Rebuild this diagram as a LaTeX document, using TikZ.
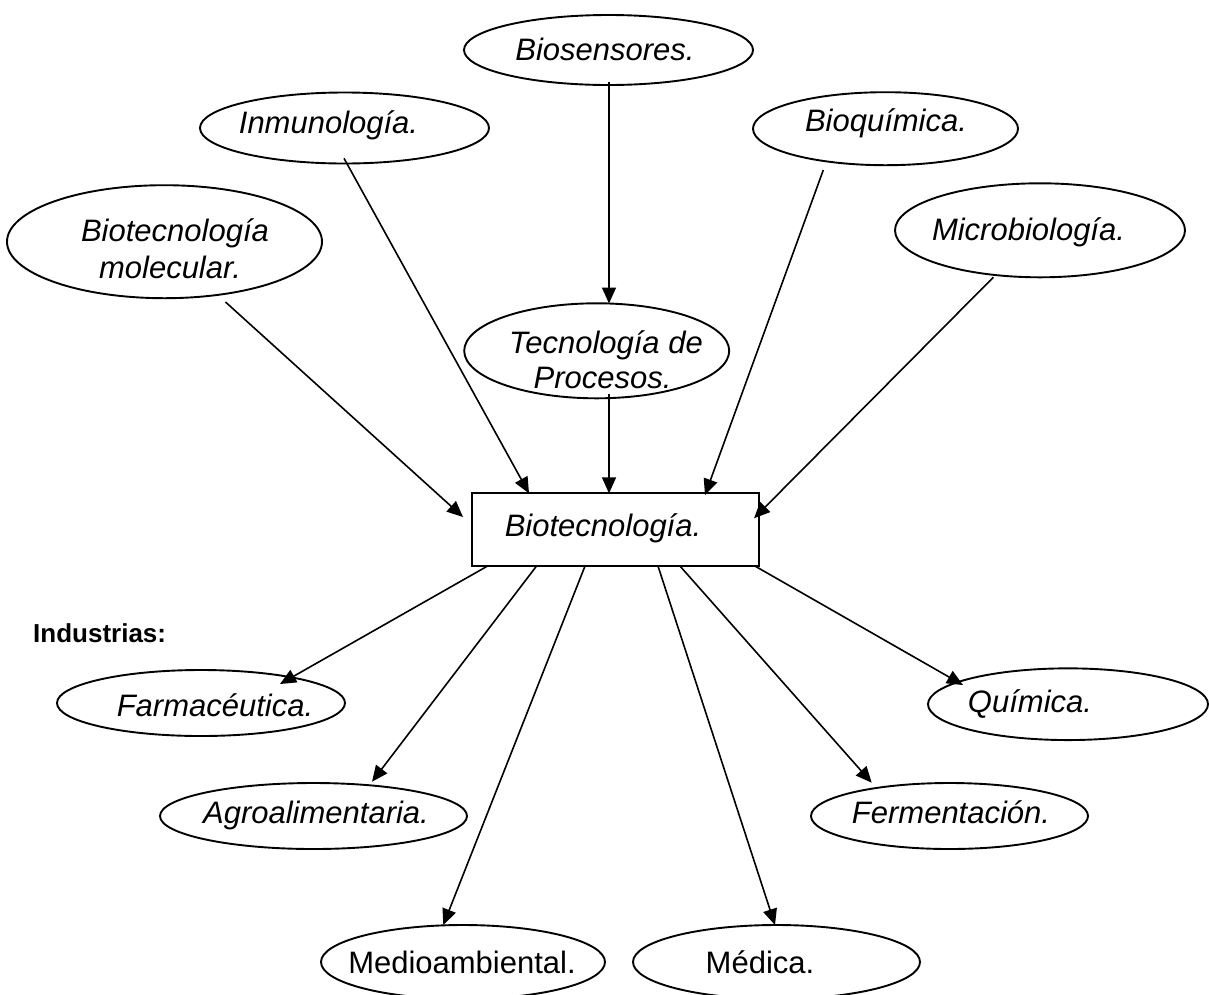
\documentclass[tikz,border=0pt]{standalone}
\usepackage{fontspec}
\setmainfont{Liberation Sans}
\usetikzlibrary{shapes.geometric,arrows.meta}
\begin{document}
\begin{tikzpicture}[x=1pt,y=-1pt,
  ell/.style={ellipse,draw,line width=1.9pt,inner sep=0pt,outer sep=0pt},
  box/.style={rectangle,draw,line width=2.1pt,inner sep=0pt,outer sep=0pt},
  lbl/.style={font=\fontsize{31pt}{37pt}\selectfont\itshape,inner sep=0pt,anchor=base},
  lblr/.style={font=\fontsize{31pt}{37pt}\selectfont,inner sep=0pt,anchor=base},
  hdr/.style={font=\fontsize{26pt}{31pt}\selectfont\bfseries,inner sep=0pt,anchor=base west},
  arr/.style={line width=1.6pt,-{Triangle[length=16pt,width=14pt]}},
]
\useasboundingbox (0,0) rectangle (1209,994);
% sources
\node[ell,minimum width=289pt,minimum height=70pt] (bios) at (608.5,50) {};
\node[lbl] (tbios) at (605,60) {Biosensores.};
\node[ell,minimum width=289pt,minimum height=71pt] (inm) at (344.5,128) {};
\node[lbl] (tinm) at (328.5,133.5) {Inmunología.};
\node[ell,minimum width=265pt,minimum height=73pt] (bioq) at (885.5,128.7) {};
\node[lbl] (tbioq) at (886,131.5) {Bioquímica.};
\node[ell,minimum width=315pt,minimum height=113pt] (biomol) at (164.5,241.7) {};
\node[lbl] (tbiomolA) at (175,241.7) {Biotecnología};
\node[lbl] (tbiomolB) at (170,278.3) {molecular.};
\node[ell,minimum width=290pt,minimum height=94pt] (micro) at (1040,230.3) {};
\node[lbl] (tmicro) at (1028.5,240) {Microbiología.};
\node[ell,minimum width=265pt,minimum height=95pt] (tec) at (596.7,350.8) {};
\node[lbl] (ttecA) at (606,353.3) {Tecnología de};
\node[lbl] (ttecB) at (602.5,388.3) {Procesos.};
% centre
\node[box,minimum width=287.6pt,minimum height=72.7pt] (bt) at (615.5,529.7) {};
\node[lbl] (tbt) at (603,536) {Biotecnología.};
% industries
\node[hdr] (ind) at (33,642) {Industrias:};
\node[ell,minimum width=288pt,minimum height=66pt] (farm) at (201,703) {};
\node[lbl] (tfarm) at (215,716) {Farmacéutica.};
\node[ell,minimum width=280pt,minimum height=71.7pt] (quim) at (1068,704.2) {};
\node[lbl] (tquim) at (1030,712) {Química.};
\node[ell,minimum width=307pt,minimum height=66pt] (agro) at (313.5,816) {};
\node[lbl] (tagro) at (316,823.3) {Agroalimentaria.};
\node[ell,minimum width=277pt,minimum height=66pt] (ferm) at (949.5,816) {};
\node[lbl] (tferm) at (951,823.3) {Fermentación.};
\node[ell,minimum width=284pt,minimum height=74pt] (medio) at (463,962) {};
\node[lblr] (tmedio) at (462,973.3) {Medioambiental.};
\node[ell,minimum width=287pt,minimum height=74pt] (medica) at (776.5,962) {};
\node[lblr] (tmedica) at (760,973.3) {Médica.};
% arrows in
\draw[arr] ([shift={(0.5,31.7)}]bios.center) -- ([shift={(12.3,-47.3)}]tec.center);
\draw[arr] ([shift={(12.3,43.2)}]tec.center) -- ([shift={(-6.5,0)}]bt.north);
\draw[arr] ([shift={(61,60.3)}]biomol.center) -- ([shift={(-8.7,-12.7)}]bt.west);
\draw[arr] ([shift={(-0.5,30.3)}]inm.center) -- ([shift={(-86.5,0)}]bt.north);
\draw[arr] ([shift={(-62.2,41.3)}]bioq.center) -- ([shift={(89.5,1.7)}]bt.north);
\draw[arr] ([shift={(-46.7,47)}]micro.center) -- ([shift={(-5.3,-11.4)}]bt.east);
% arrows out
\draw[arr] ([shift={(-128,0)}]bt.south) -- ([shift={(79,-19)}]farm.center);
\draw[arr] ([shift={(-79,0)}]bt.south) -- ([shift={(58.5,-34.3)}]agro.center);
\draw[arr] ([shift={(-30.5,0)}]bt.south) -- ([shift={(-19.7,-37)}]medio.center);
\draw[arr] ([shift={(42.5,0)}]bt.south) -- ([shift={(-1.5,-37)}]medica.center);
\draw[arr] ([shift={(64.5,0)}]bt.south) -- ([shift={(-77.8,-33.3)}]ferm.center);
\draw[arr] ([shift={(139.5,0)}]bt.south) -- ([shift={(-105,-19.2)}]quim.center);
\end{tikzpicture}
\end{document}
